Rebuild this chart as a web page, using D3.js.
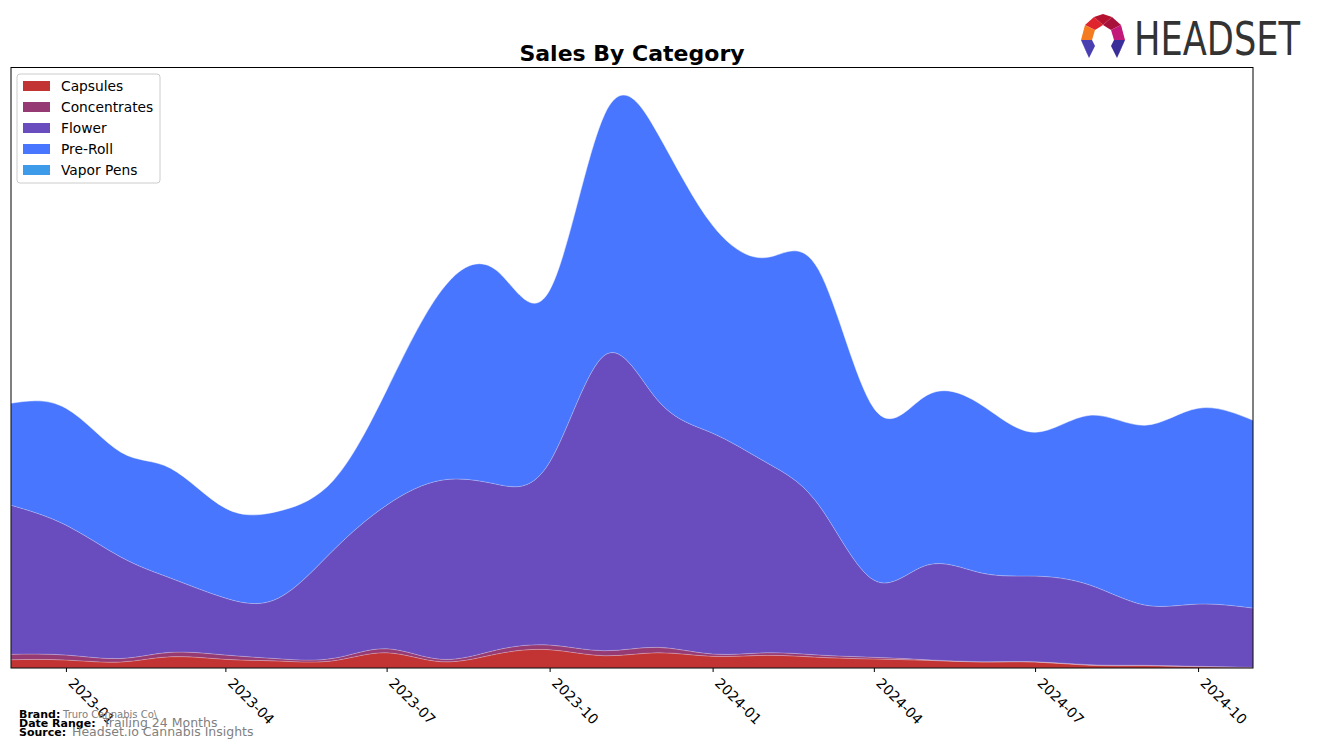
<!DOCTYPE html>
<html>
<head>
<meta charset="utf-8">
<script src="https://cdn.jsdelivr.net/npm/d3@7"></script>
<style>
  html, body { margin: 0; padding: 0; background: #fff; }
  svg { display: block; font-family: "DejaVu Sans", sans-serif; }
</style>
</head>
<body>
<svg id="chart" width="1317" height="748"></svg>
<script>
// ---- data (monthly, arbitrary sales units) ----
const months = ["2022-12","2023-01","2023-02","2023-03","2023-04","2023-05","2023-06","2023-07",
  "2023-08","2023-09","2023-10","2023-11","2023-12","2024-01","2024-02","2024-03","2024-04",
  "2024-05","2024-06","2024-07","2024-08","2024-09","2024-10","2024-11"];
const categories = ["Capsules","Concentrates","Flower","Pre-Roll","Vapor Pens"];
const capsules     = [8.3,8,6,11.3,8.7,7,7.3,15.3,6.3,14,18.3,12.3,15.3,11.7,12.7,10.7,9,7.7,6,6,2.7,2.3,1.3,0.5];
const concentrates = [5.4,5,3.5,4.4,4.3,2.3,2.4,4,2.4,4,4.7,5,5.4,2.3,2.6,2.3,1.7,0.6,0.3,0.3,0.6,0.4,0.4,0.2];
const flower       = [149.3,130,101.5,74.3,57,60.7,108.3,143.7,179.3,166,183,295.7,247.3,221,189.7,150,77.3,94.7,88.7,85.7,79.7,60.3,62.3,59.3];
const preRoll      = [102,117,105,110,90,87,70,115,190,214,172,241,267,208,206,235,172,170,168,144,170,180,196,188];
const vaporPens    = [0,0,0,0,0,0,0,0,0,0,0,0,0,0,0,0,0,0,0,0,0,0,0,0];
const tickLabels = ["2023-01","2023-04","2023-07","2023-10","2024-01","2024-04","2024-07","2024-10"];
const colors = ["#C23333","#963A74","#694DBE","#4876FF","#3D9BE9"];
const yTop = 601;

const parse = d3.timeParse("%Y-%m");
const rows = months.map((m, i) => ({
  date: parse(m),
  "Capsules": capsules[i], "Concentrates": concentrates[i], "Flower": flower[i],
  "Pre-Roll": preRoll[i], "Vapor Pens": vaporPens[i]
}));

const svg = d3.select("#chart");
const L = 11, R = 1253, T = 67.5, B = 668;

const x = d3.scaleTime().domain([parse(months[0]), parse(months[months.length-1])]).range([L, R]);
const y = d3.scaleLinear().domain([0, yTop]).range([B, T]);

const stack = d3.stack().keys(categories);
const series = stack(rows);

const area = d3.area()
  .x(d => x(d.data.date))
  .y0(d => y(d[0]))
  .y1(d => y(d[1]))
  .curve(d3.curveNatural);

svg.append("clipPath").attr("id", "clip")
  .append("rect").attr("x", L).attr("y", T).attr("width", R - L).attr("height", B - T);

svg.append("g").attr("clip-path", "url(#clip)")
  .selectAll("path").data(series).join("path")
  .attr("d", area)
  .attr("fill", (d, i) => colors[i])
  .attr("stroke", "#ffffff")
  .attr("stroke-opacity", 0.25)
  .attr("stroke-width", 0.8);

// axes frame
svg.append("rect").attr("x", L).attr("y", T).attr("width", R - L).attr("height", B - T)
  .attr("fill", "none").attr("stroke", "#000").attr("stroke-width", 1);

// x axis
const xAxis = d3.axisBottom(x)
  .tickValues(tickLabels.map(parse))
  .tickFormat(d3.timeFormat("%Y-%m"))
  .tickSize(4).tickPadding(4);
const gx = svg.append("g").attr("transform", `translate(0,${B})`).call(xAxis);
gx.select(".domain").remove();
gx.selectAll(".tick line").attr("stroke", "#000");
gx.selectAll(".tick text")
  .attr("font-family", "DejaVu Sans, sans-serif")
  .attr("font-size", 14)
  .attr("fill", "#000")
  .attr("text-anchor", "start")
  .attr("dy", null)
  .attr("y", 0)
  .attr("transform", "translate(1,16) rotate(45)");

// title
svg.append("text").attr("x", (L + R) / 2).attr("y", 61)
  .attr("text-anchor", "middle").attr("font-size", 22).attr("font-weight", "bold")
  .attr("fill", "#000").text("Sales By Category");

// legend
const lg = svg.append("g").attr("transform", "translate(17,74)");
lg.append("rect").attr("width", 143).attr("height", 109).attr("rx", 3)
  .attr("fill", "#fff").attr("fill-opacity", 0.8).attr("stroke", "#cccccc");
categories.forEach((c, i) => {
  const yy = 12 + i * 21;
  lg.append("rect").attr("x", 6).attr("y", yy - 5).attr("width", 27).attr("height", 10).attr("fill", colors[i]);
  lg.append("text").attr("x", 44).attr("y", yy + 5).attr("font-size", 13.8).attr("fill", "#000").text(c);
});

// footer
const foot = [
  ["Brand:", "Truro Cannabis Co\\", 63, 10, 718],
  ["Date Range:", "Trailing 24 Months", 103, 12.5, 727],
  ["Source:", "Headset.io Cannabis Insights", 72, 12.5, 736]
];
foot.forEach(f => {
  svg.append("text").attr("x", 19).attr("y", f[4]).attr("font-size", 11).attr("font-weight", "bold")
    .attr("fill", "#000").text(f[0]);
  svg.append("text").attr("x", f[2]).attr("y", f[4]).attr("font-size", f[3])
    .attr("fill", "#808080").text(f[1]);
});

// logo
const logo = svg.append("g").attr("transform", "translate(1103,36)");
const polys = [
  {p: [[-18,-11],[-9,-19],[0,-11],[-8,-6]], c: "#E0242E"},
  {p: [[-9,-19],[0,-22],[9,-19],[0,-11]], c: "#B5122F"},
  {p: [[9,-19],[18,-11],[8,-6],[0,-11]], c: "#A8123A"},
  {p: [[-18,-11],[-22,4],[-11,4],[-8,-6]], c: "#F47B20"},
  {p: [[18,-11],[22,4],[11,4],[8,-6]], c: "#C2187A"},
  {p: [[-22,4],[-11,4],[-8,10],[-14,22]], c: "#4A3FB0"},
  {p: [[22,4],[11,4],[8,10],[14,22]], c: "#3A2E99"},
  {p: [[-22,4],[-14,22],[-18,12]], c: "#6E63D8"},
  {p: [[22,4],[14,22],[18,12]], c: "#5A4FC8"}
];
polys.forEach(o => {
  logo.append("path").attr("d", "M" + o.p.map(q => q.join(",")).join("L") + "Z").attr("fill", o.c);
});
svg.append("text").attr("x", 1134).attr("y", 55)
  .attr("font-family", "'Liberation Sans Narrow', 'DejaVu Sans Condensed', sans-serif")
  .attr("font-size", 47).attr("fill", "#333333")
  .attr("textLength", 166).attr("lengthAdjust", "spacingAndGlyphs")
  .text("HEADSET");
</script>
</body>
</html>
